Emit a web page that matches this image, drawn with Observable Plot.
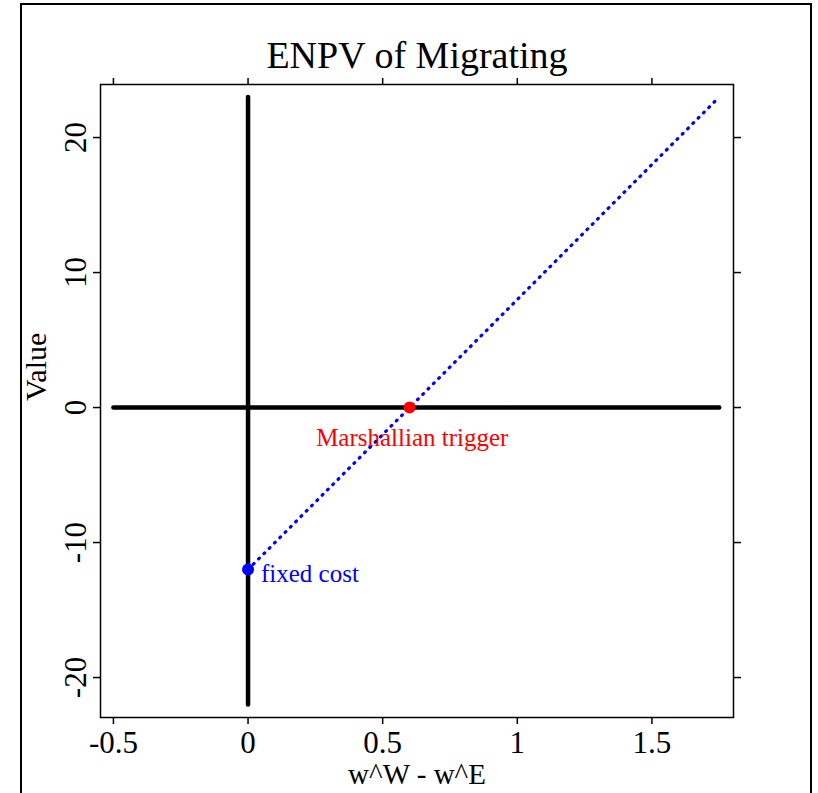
<!DOCTYPE html>
<html>
<head>
<meta charset="utf-8">
<script src="https://cdn.jsdelivr.net/npm/d3@7"></script>
<script src="https://cdn.jsdelivr.net/npm/@observablehq/plot@0.6"></script>
<style>
  html, body { margin: 0; padding: 0; background: #fff; overflow: hidden; }
  #wrap { position: relative; width: 818px; height: 793px; }
  #border { position: absolute; left: 20px; top: 3px; width: 792px; height: 820px; border: 2px solid #000; box-sizing: border-box; pointer-events: none; }
</style>
</head>
<body>
<div id="wrap"><div id="border"></div></div>
<script>
// ---- data ----
const xTicks = [-0.5, 0, 0.5, 1, 1.5];
const yTicks = [-20, -10, 0, 10, 20];
const horizX = [-0.5, 1.75];
const horizY = [0, 0];
const vertX = [0, 0];
const vertY = [-22, 23];
const enpvX = [0, 1.75];
const enpvY = [-12, 23];
const triggerPoint = [{x: 0.6, y: 0}];
const costPoint = [{x: 0, y: -12}];
const triggerLabel = [{x: 0.61, y: -2.25, text: "Marshallian trigger"}];
const costLabel = [{x: 0.048, y: -12.3, text: "fixed cost"}];
const title = "ENPV of Migrating";
const xLabel = "w^W - w^E";
const yLabel = "Value";

const font = "'Liberation Serif', 'Times New Roman', serif";
const toRows = (xs, ys) => xs.map((x, i) => ({x, y: ys[i]}));

const chart = Plot.plot({
  width: 818,
  height: 793,
  marginLeft: 100,
  marginRight: 85,
  marginTop: 84,
  marginBottom: 76,
  style: {fontFamily: font, background: "white", color: "black"},
  x: {domain: [-0.548, 1.803]},
  y: {domain: [-22.96, 23.93]},
  marks: [
    Plot.line(toRows(horizX, horizY), {x: "x", y: "y", stroke: "black", strokeWidth: 4.5, strokeLinecap: "round"}),
    Plot.line(toRows(vertX, vertY), {x: "x", y: "y", stroke: "black", strokeWidth: 4.5, strokeLinecap: "round"}),
    Plot.line(toRows(enpvX, enpvY), {x: "x", y: "y", stroke: "blue", strokeWidth: 3.2, strokeDasharray: "1,6.5", strokeLinecap: "round"}),
    Plot.dot(triggerPoint, {x: "x", y: "y", r: 6, fill: "red"}),
    Plot.dot(costPoint, {x: "x", y: "y", r: 6, fill: "blue"}),
    Plot.text(triggerLabel, {x: "x", y: "y", text: "text", fill: "red", textAnchor: "middle", fontSize: 25, fontFamily: font}),
    Plot.text(costLabel, {x: "x", y: "y", text: "text", fill: "blue", textAnchor: "start", fontSize: 25, fontFamily: font}),
    Plot.frame({stroke: "black", strokeWidth: 1.5}),
    Plot.axisX({anchor: "bottom", ticks: xTicks, tickFormat: d => String(d), tickSize: 7, tickPadding: 6, fontSize: 31, label: null, strokeWidth: 1.5}),
    Plot.axisX({anchor: "top", ticks: xTicks, tickFormat: () => "", tickSize: 7, label: null, strokeWidth: 1.5}),
    Plot.axisY({anchor: "left", ticks: yTicks, tickFormat: d => String(d), tickSize: 7, tickPadding: 8, tickRotate: -90, fontSize: 31, label: null, strokeWidth: 1.5}),
    Plot.axisY({anchor: "right", ticks: yTicks, tickFormat: () => "", tickSize: 7, label: null, strokeWidth: 1.5}),
    Plot.text([xLabel], {frameAnchor: "bottom", lineAnchor: "middle", dy: 57, text: d => d, fontSize: 29, fontFamily: font, fill: "black"}),
    Plot.text([yLabel], {frameAnchor: "left", dx: -64, rotate: -90, text: d => d, fontSize: 30, fontFamily: font, fill: "black"}),
    Plot.text([title], {frameAnchor: "top", lineAnchor: "middle", dy: -29, text: d => d, fontSize: 38, fontFamily: font, fill: "black"})
  ]
});
document.getElementById("wrap").prepend(chart);
</script>
</body>
</html>
